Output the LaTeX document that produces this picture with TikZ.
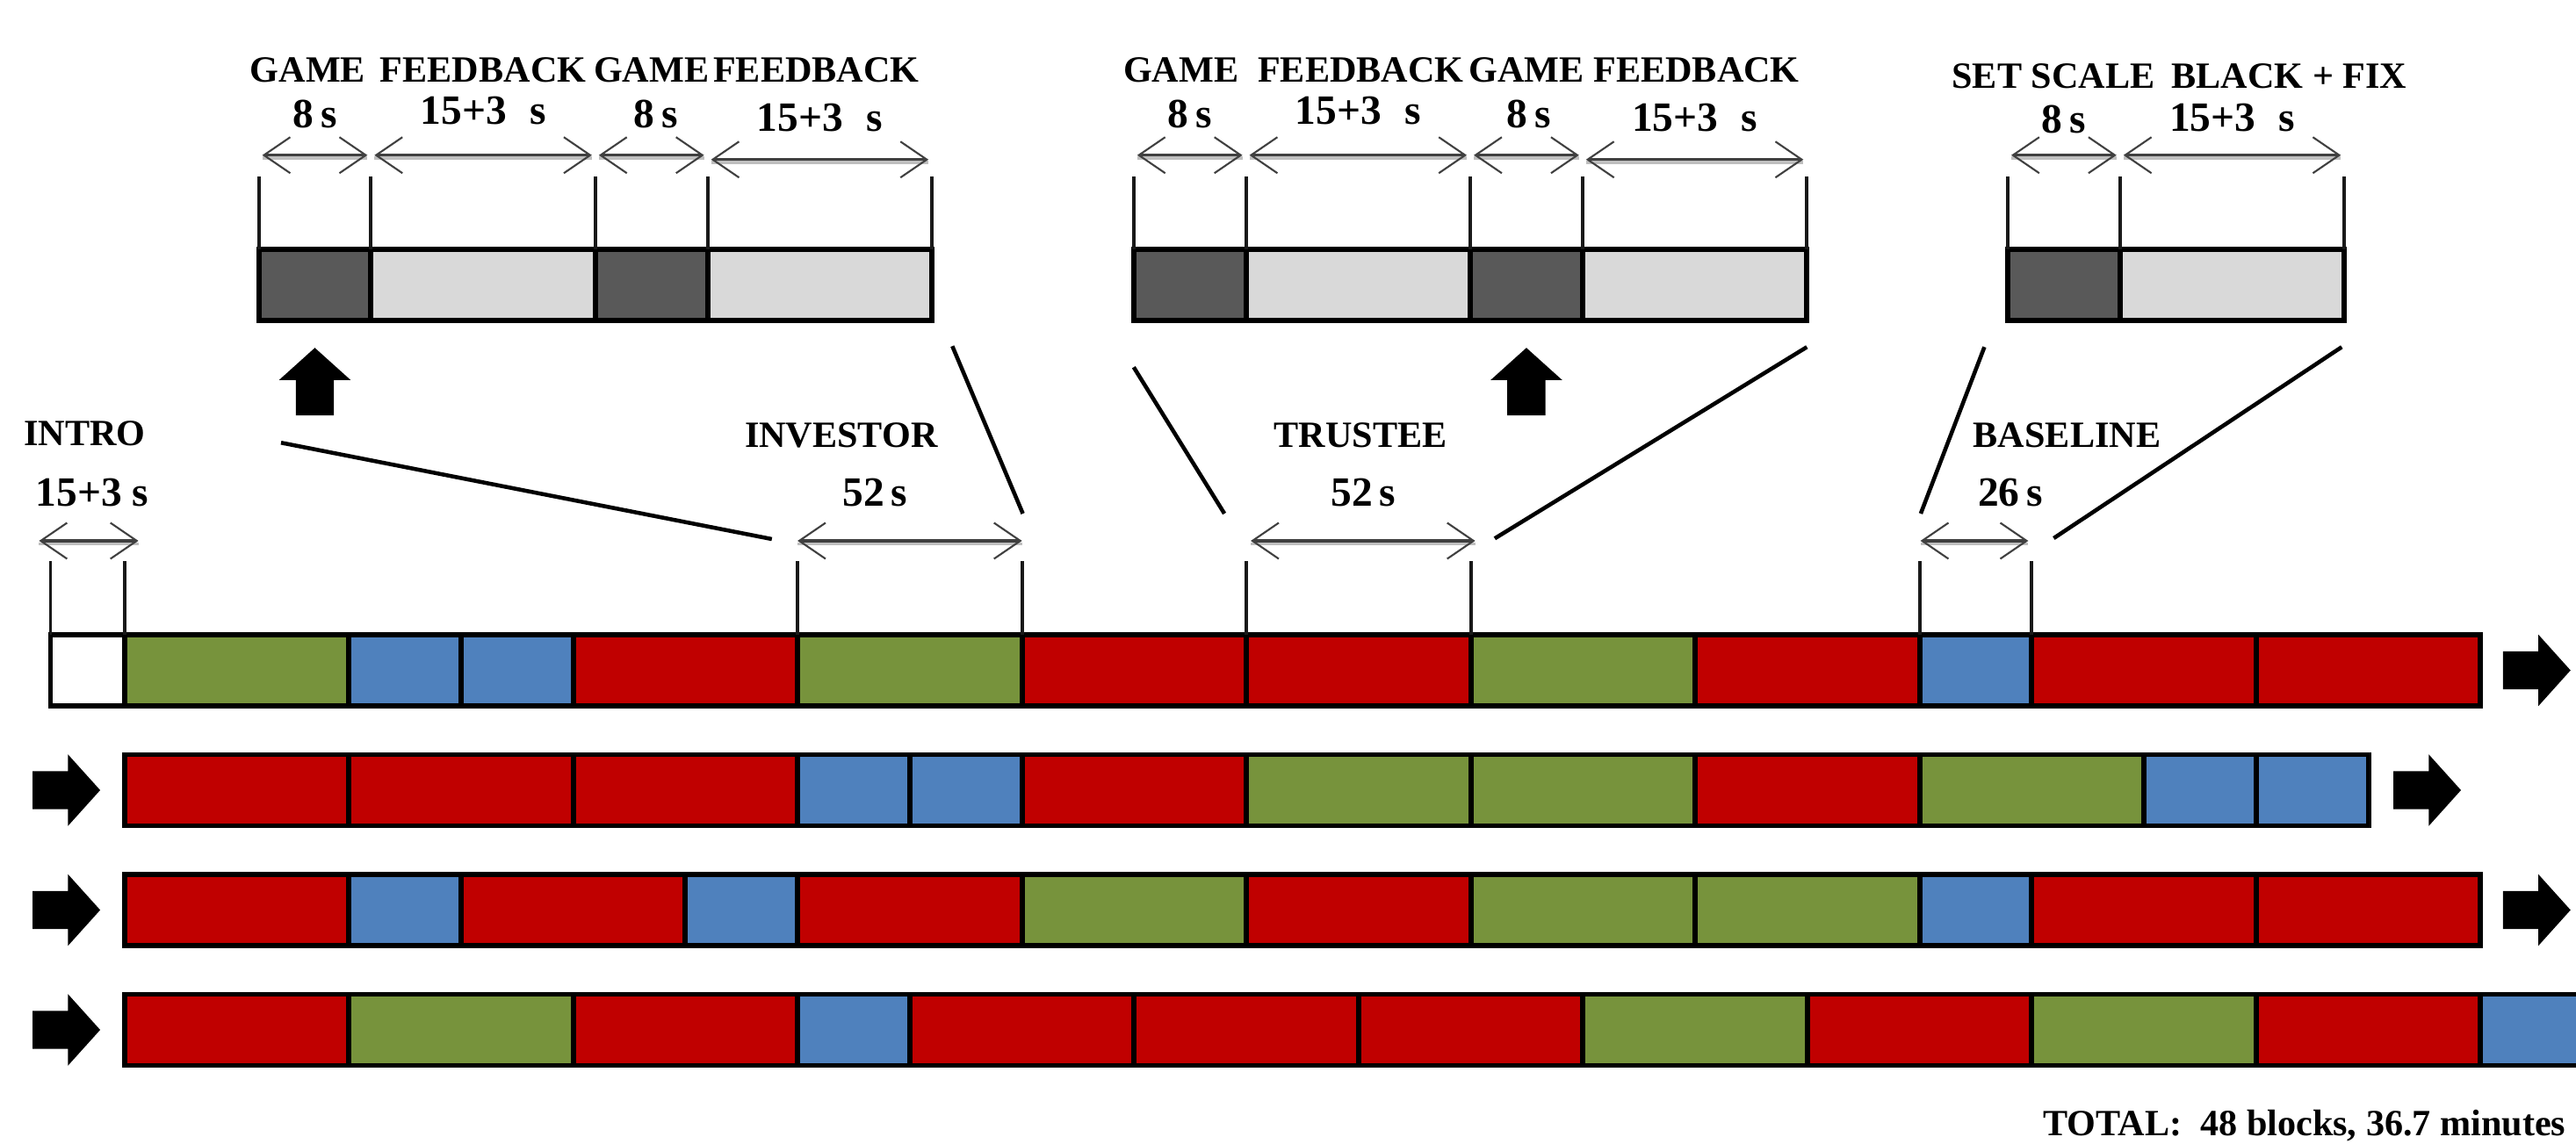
\documentclass[tikz,border=0pt]{standalone}
\usepackage{fontspec}
\setmainfont{Liberation Serif}
\usepackage{tikz}
\usetikzlibrary{positioning}
\usetikzlibrary{arrows.meta}
\usetikzlibrary{shapes.arrows}
\definecolor{invred}{HTML}{C00000}
\definecolor{invgreen}{HTML}{77933C}
\definecolor{invblue}{HTML}{4F81BD}
\definecolor{gamegray}{HTML}{595959}
\definecolor{fbgray}{HTML}{D9D9D9}

\begin{document}
\begin{tikzpicture}[
>={Straight Barb[length=3mm,width=4.1mm,line width=0.6pt]},
blockbase/.style={rectangle, draw=black, line width=1.7pt, minimum height=8.1mm, inner sep=0pt, outer sep=0pt, anchor=west},
redblock/.style={blockbase, fill=invred, minimum width=25.55mm},
greenblock/.style={blockbase, fill=invgreen, minimum width=25.55mm},
blueblock/.style={blockbase, fill=invblue, minimum width=12.775mm},
introblock/.style={blockbase, fill=white, minimum width=8.41mm},
gameblock/.style={blockbase, fill=gamegray, minimum width=12.775mm},
fbblock/.style={blockbase, fill=fbgray, minimum width=25.55mm},
bigarrow/.style={single arrow, fill=black, inner sep=2.1mm, minimum width=8mm, minimum height=7.7mm, single arrow head extend=1.9mm, single arrow tip angle=96},
capnode/.style={font=\fontsize{12}{14}\selectfont\bfseries, inner sep=0pt, anchor=base},
numnode/.style={font=\fontsize{13.5}{16}\selectfont\bfseries, inner sep=0pt, anchor=base},
tickline/.style={line width=1.1pt, draw=black!90},
dimarrow/.style={<->, line width=0.9pt, draw=black!75, preaction={draw=black!25, arrows=-, line width=1.1pt, transform canvas={yshift=-1pt}}},
zoomline/.style={line width=1.3pt, draw=black},
]
\useasboundingbox (0,0) rectangle (29.33,-13.03);

%Zoomed blocks
\node[gameblock]   (gm1)  at (2.946,-3.2475) {};
\node[fbblock]     (fb1)  [right=0pt of gm1] {};
\node[gameblock]   (gm2)  [right=0pt of fb1] {};
\node[fbblock]     (fb2)  [right=0pt of gm2] {};

\node[gameblock]   (gm3)  at (12.908,-3.2475) {};
\node[fbblock]     (fb3)  [right=0pt of gm3] {};
\node[gameblock]   (gm4)  [right=0pt of fb3] {};
\node[fbblock]     (fb4)  [right=0pt of gm4] {};

\node[gameblock]   (sc1)  at (22.86,-3.2475) {};
\node[fbblock]     (bk1)  [right=0pt of sc1] {};

%Row 1
\node[introblock]  (intro) at (0.575,-7.635) {};
\node[greenblock]  (r1b1)  [right=0pt of intro] {};
\node[blueblock]   (r1b2)  [right=0pt of r1b1] {};
\node[blueblock]   (r1b3)  [right=0pt of r1b2] {};
\node[redblock]    (r1b4)  [right=0pt of r1b3] {};
\node[greenblock]  (r1b5)  [right=0pt of r1b4] {};
\node[redblock]    (r1b6)  [right=0pt of r1b5] {};
\node[redblock]    (r1b7)  [right=0pt of r1b6] {};
\node[greenblock]  (r1b8)  [right=0pt of r1b7] {};
\node[redblock]    (r1b9)  [right=0pt of r1b8] {};
\node[blueblock]   (r1b10) [right=0pt of r1b9] {};
\node[redblock]    (r1b11) [right=0pt of r1b10] {};
\node[redblock]    (r1b12) [right=0pt of r1b11] {};

%Row 2
\node[redblock]    (r2b1)  at (1.416,-9.0) {};
\node[redblock]    (r2b2)  [right=0pt of r2b1] {};
\node[redblock]    (r2b3)  [right=0pt of r2b2] {};
\node[blueblock]   (r2b4)  [right=0pt of r2b3] {};
\node[blueblock]   (r2b5)  [right=0pt of r2b4] {};
\node[redblock]    (r2b6)  [right=0pt of r2b5] {};
\node[greenblock]  (r2b7)  [right=0pt of r2b6] {};
\node[greenblock]  (r2b8)  [right=0pt of r2b7] {};
\node[redblock]    (r2b9)  [right=0pt of r2b8] {};
\node[greenblock]  (r2b10) [right=0pt of r2b9] {};
\node[blueblock]   (r2b11) [right=0pt of r2b10] {};
\node[blueblock]   (r2b12) [right=0pt of r2b11] {};

%Row 3
\node[redblock]    (r3b1)  at (1.416,-10.365) {};
\node[blueblock]   (r3b2)  [right=0pt of r3b1] {};
\node[redblock]    (r3b3)  [right=0pt of r3b2] {};
\node[blueblock]   (r3b4)  [right=0pt of r3b3] {};
\node[redblock]    (r3b5)  [right=0pt of r3b4] {};
\node[greenblock]  (r3b6)  [right=0pt of r3b5] {};
\node[redblock]    (r3b7)  [right=0pt of r3b6] {};
\node[greenblock]  (r3b8)  [right=0pt of r3b7] {};
\node[greenblock]  (r3b9)  [right=0pt of r3b8] {};
\node[blueblock]   (r3b10) [right=0pt of r3b9] {};
\node[redblock]    (r3b11) [right=0pt of r3b10] {};
\node[redblock]    (r3b12) [right=0pt of r3b11] {};

%Row 4
\node[redblock]    (r4b1)  at (1.416,-11.73) {};
\node[greenblock]  (r4b2)  [right=0pt of r4b1] {};
\node[redblock]    (r4b3)  [right=0pt of r4b2] {};
\node[blueblock]   (r4b4)  [right=0pt of r4b3] {};
\node[redblock]    (r4b5)  [right=0pt of r4b4] {};
\node[redblock]    (r4b6)  [right=0pt of r4b5] {};
\node[redblock]    (r4b7)  [right=0pt of r4b6] {};
\node[greenblock]  (r4b8)  [right=0pt of r4b7] {};
\node[redblock]    (r4b9)  [right=0pt of r4b8] {};
\node[greenblock]  (r4b10) [right=0pt of r4b9] {};
\node[redblock]    (r4b11) [right=0pt of r4b10] {};
\node[blueblock]   (r4b12) [right=0pt of r4b11] {};

%Block arrows
\node[bigarrow, shape border rotate=90, anchor=tip] (up1) at ([yshift=-3mm]gm1.south) {};
\node[bigarrow, shape border rotate=90, anchor=tip] (up2) at ([yshift=-3mm]gm4.south) {};
\node[bigarrow, anchor=tail] (nx1) at ([xshift=2.47mm]r1b12.east) {};
\node[bigarrow, anchor=tail] (nx2) at ([xshift=2.77mm]r2b12.east) {};
\node[bigarrow, anchor=tail] (nx3) at ([xshift=2.47mm]r3b12.east) {};
\node[bigarrow, anchor=tip]  (in2) at ([xshift=-2.66mm]r2b1.west) {};
\node[bigarrow, anchor=tip]  (in3) at ([xshift=-2.66mm]r3b1.west) {};
\node[bigarrow, anchor=tip]  (in4) at ([xshift=-2.66mm]r4b1.west) {};

%Labels
\node[capnode] (tgm1) at ([shift={(-0.08,1.905)}]gm1.north) {GAME};
\node[capnode] (tfb1) at ([shift={(0,1.905)}]fb1.north) {FEEDBACK};
\node[capnode] (tgm2) at ([shift={(0,1.905)}]gm2.north) {GAME};
\node[capnode] (tfb2) at ([shift={(-0.04,1.905)}]fb2.north) {FEEDBACK};
\node[numnode] (sgm1) at ([shift={(0,1.385)}]gm1.north) {8\,s};
\node[numnode] (sfb1) at ([shift={(0,1.425)}]fb1.north) {15+3\hspace{0.55em}s};
\node[numnode] (sgm2) at ([shift={(0.05,1.385)}]gm2.north) {8\,s};
\node[numnode] (sfb2) at ([shift={(0,1.345)}]fb2.north) {15+3\hspace{0.55em}s};

\node[capnode] (tgm3) at ([shift={(-0.1,1.905)}]gm3.north) {GAME};
\node[capnode] (tfb3) at ([shift={(0.03,1.905)}]fb3.north) {FEEDBACK};
\node[capnode] (tgm4) at ([shift={(0,1.905)}]gm4.north) {GAME};
\node[capnode] (tfb4) at ([shift={(0.02,1.905)}]fb4.north) {FEEDBACK};
\node[numnode] (sgm3) at ([shift={(0,1.385)}]gm3.north) {8\,s};
\node[numnode] (sfb3) at ([shift={(0,1.425)}]fb3.north) {15+3\hspace{0.55em}s};
\node[numnode] (sgm4) at ([shift={(0.03,1.385)}]gm4.north) {8\,s};
\node[numnode] (sfb4) at ([shift={(0,1.345)}]fb4.north) {15+3\hspace{0.55em}s};

\node[capnode] (tsc1) at ([shift={(-0.12,1.835)}]sc1.north) {SET SCALE};
\node[capnode] (tbk1) at ([shift={(0.65,1.835)}]bk1.north) {BLACK + FIX};
\node[numnode] (ssc1) at ([shift={(0,1.328)}]sc1.north) {8\,s};
\node[numnode] (sbk1) at ([shift={(0,1.345)}]bk1.north) {15+3\hspace{0.55em}s};

\node[capnode] (tintro) at ([shift={(-0.03,2.15)}]intro.north) {INTRO};
\node[numnode] (sintro) at ([shift={(0.055,1.463)}]intro.north) {15+3 s};
\node[capnode] (tinv)   at ([shift={(-0.78,2.13)}]r1b5.north) {INVESTOR};
\node[numnode] (sinv)   at ([shift={(-0.395,1.463)}]r1b5.north) {52\,s};
\node[capnode] (ttru)   at ([shift={(0.023,2.13)}]r1b7.north) {TRUSTEE};
\node[numnode] (stru)   at ([shift={(0.055,1.463)}]r1b7.north) {52\,s};
\node[capnode] (tbase)  at ([shift={(1.04,2.13)}]r1b10.north) {BASELINE};
\node[numnode] (sbase)  at ([shift={(0.395,1.463)}]r1b10.north) {26\,s};

\node[capnode, anchor=base west] (total) at (23.258,-12.93) {TOTAL:\ \ 48 blocks, 36.7 minutes};

%Ticks
\foreach \b in {gm1,fb1,gm2,fb2,gm3,fb3,gm4,fb4,sc1,bk1}
  \draw[tickline] (\b.north west) -- ([yshift=8.35mm]\b.north west);
\foreach \b in {fb2,fb4,bk1}
  \draw[tickline] (\b.north east) -- ([yshift=8.35mm]\b.north east);
\foreach \b in {intro,r1b5,r1b7,r1b10} {
  \draw[tickline] (\b.north west) -- ([yshift=8.4mm]\b.north west);
  \draw[tickline] (\b.north east) -- ([yshift=8.4mm]\b.north east);
}

%Dimension arrows
\foreach \b in {gm1,fb1,gm2,gm3,fb3,gm4,sc1,bk1}
  \draw[dimarrow, shorten <=0.4mm, shorten >=0.4mm] ([yshift=10.75mm]\b.north west) -- ([yshift=10.75mm]\b.north east);
\foreach \b in {fb2,fb4}
  \draw[dimarrow, shorten <=0.4mm, shorten >=0.4mm] ([yshift=10.25mm]\b.north west) -- ([yshift=10.25mm]\b.north east);
\draw[dimarrow] ([shift={(-0.13,1.07)}]intro.north west) -- ([shift={(0.16,1.07)}]intro.north east);
\draw[dimarrow] ([yshift=10.7mm]r1b5.north west) -- ([yshift=10.7mm]r1b5.north east);
\draw[dimarrow] ([shift={(0.05,1.07)}]r1b7.north west) -- ([shift={(0.05,1.07)}]r1b7.north east);
\draw[dimarrow] ([shift={(0.01,1.07)}]r1b10.north west) -- ([shift={(-0.04,1.07)}]r1b10.north east);

%Lines
\draw[zoomline] ([shift={(0.254,-1.39)}]gm1.south west) -- ([shift={(-0.293,1.09)}]r1b5.north west);
\draw[zoomline] ([shift={(0.232,-0.29)}]fb2.south east) -- ([shift={(0.01,1.38)}]r1b5.north east);
\draw[zoomline] ([shift={(0,-0.53)}]gm3.south west) -- ([shift={(-0.25,1.38)}]r1b7.north west);
\draw[zoomline] ([shift={(0,-0.30)}]fb4.south east) -- ([shift={(0.273,1.097)}]r1b7.north east);
\draw[zoomline] ([shift={(-0.266,-0.30)}]sc1.south west) -- ([shift={(0.013,1.38)}]r1b10.north west);
\draw[zoomline] ([shift={(-0.03,-0.30)}]bk1.south east) -- ([shift={(0.25,1.10)}]r1b10.north east);
\end{tikzpicture}
\end{document}
